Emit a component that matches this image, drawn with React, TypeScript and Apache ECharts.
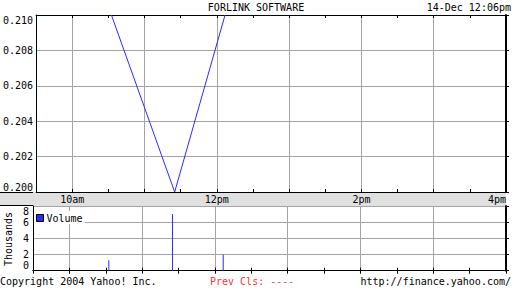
import React, { useEffect, useRef } from "react";
import * as echarts from "echarts";

const title = "FORLINK SOFTWARE";
const stamp = "14-Dec 12:06pm";
const tradeTimes = ["10:32:30", "11:25:00", "12:06:50"];
const prices = [0.21, 0.2, 0.21];
const volumesK = [1.3, 7.0, 2.0];
const xTickLabels: Record<number, string> = { 10: "10am", 12: "12pm", 14: "2pm", 16: "4pm" };

const toHours = (s: string) => {
  const [h, m, sec] = s.split(":").map(Number);
  return h + m / 60 + (sec || 0) / 3600;
};

const FONT = "DejaVu Sans Mono";
const GRID_GRAY = "#a4a4a4";
const BLUE = "#2b2bff";

export default function App() {
  const ref = useRef<HTMLDivElement>(null);
  useEffect(() => {
    if (!ref.current) return;
    const chart = echarts.init(ref.current, null, { renderer: "svg" });
    const hrs = tradeTimes.map(toHours);
    const priceData = hrs.map((h, i) => [h, prices[i]]);
    const volData = hrs.map((h, i) => [h, volumesK[i]]);
    const L = 33, W = 473;
    const xBase = {
      type: "value",
      min: 9.5,
      max: 16,
      interval: 0.5,
    };
    const txt = { fontFamily: FONT, fontSize: 10, color: "#000" };
    chart.setOption({
      animation: false,
      backgroundColor: "#fff",
      textStyle: { fontFamily: FONT },
      grid: [
        { left: L, top: 15, width: W, height: 177 },
        { left: L, top: 206, width: W, height: 64.7 },
      ],
      legend: {
        data: ["Volume"],
        left: 34,
        top: 211,
        padding: [2, 2, 1, 2],
        icon: "rect",
        itemWidth: 7,
        itemHeight: 7,
        backgroundColor: "#fff",
        itemStyle: { borderColor: "#000", borderWidth: 1 },
        textStyle: { ...txt, padding: [0, 0, 0, -2] },
      },
      xAxis: [
        {
          ...xBase,
          gridIndex: 0,
          position: "bottom",
          axisLine: { show: true, lineStyle: { color: "#000", width: 1 } },
          axisTick: { show: true, inside: true, length: 3, lineStyle: { color: "#000" } },
          axisLabel: {
            ...txt,
            margin: 2,
            alignMaxLabel: "right",
            formatter: (v: number) => xTickLabels[v] ?? "",
          },
          splitLine: { show: true, lineStyle: { color: ["rgba(0,0,0,0)", GRID_GRAY], width: 1 } },
        },
        {
          ...xBase,
          gridIndex: 0,
          position: "top",
          axisLine: { show: true, lineStyle: { color: "#000", width: 1 } },
          axisTick: { show: true, inside: true, length: 3, lineStyle: { color: "#000" } },
          axisLabel: { show: false },
          splitLine: { show: false },
        },
        {
          ...xBase,
          gridIndex: 1,
          position: "bottom",
          axisLine: { show: true, lineStyle: { color: "#000", width: 1 } },
          axisTick: { show: true, inside: true, length: 3, lineStyle: { color: "#000" } },
          axisLabel: { show: false },
          splitLine: { show: true, lineStyle: { color: ["rgba(0,0,0,0)", GRID_GRAY], width: 1 } },
        },
        {
          ...xBase,
          gridIndex: 1,
          position: "top",
          axisLine: { show: true, lineStyle: { color: "#000", width: 1 } },
          axisTick: { show: true, inside: true, length: 3, lineStyle: { color: "#000" } },
          axisLabel: { show: false },
          splitLine: { show: false },
        },
      ],
      yAxis: [
        {
          type: "value",
          gridIndex: 0,
          position: "left",
          min: 0.2,
          max: 0.21,
          interval: 0.002,
          axisLine: { show: true, lineStyle: { color: "#000" } },
          axisTick: { show: false },
          axisLabel: {
            ...txt,
            margin: 3,
            formatter: (v: number) => v.toFixed(3),
            verticalAlignMinLabel: "bottom",
            verticalAlignMaxLabel: "top",
          },
          splitLine: { show: true, lineStyle: { color: GRID_GRAY } },
        },
        {
          type: "value",
          gridIndex: 0,
          position: "right",
          min: 0.2,
          max: 0.21,
          interval: 0.002,
          axisLine: { show: true, lineStyle: { color: "#000", width: 2 } },
          axisTick: { show: true, length: 3, lineStyle: { color: "#000" } },
          axisLabel: { show: false },
          splitLine: { show: false },
        },
        {
          type: "value",
          gridIndex: 1,
          position: "left",
          min: 0,
          max: 8,
          interval: 2,
          axisLine: { show: true, lineStyle: { color: "#000" } },
          axisTick: { show: false },
          axisLabel: {
            ...txt,
            margin: 4,
            verticalAlignMinLabel: "bottom",
            verticalAlignMaxLabel: "top",
          },
          splitLine: { show: true, lineStyle: { color: GRID_GRAY } },
        },
        {
          type: "value",
          gridIndex: 1,
          position: "right",
          min: 0,
          max: 8,
          interval: 2,
          axisLine: { show: true, lineStyle: { color: "#000", width: 2 } },
          axisTick: { show: true, length: 3, lineStyle: { color: "#000" } },
          axisLabel: { show: false },
          splitLine: { show: false },
        },
      ],
      series: [
        {
          name: "Price",
          type: "line",
          xAxisIndex: 0,
          yAxisIndex: 0,
          data: priceData,
          showSymbol: false,
          symbol: "none",
          lineStyle: { color: BLUE, width: 1 },
          itemStyle: { color: BLUE },
          z: 5,
        },
        {
          name: "Volume",
          type: "bar",
          xAxisIndex: 2,
          yAxisIndex: 2,
          data: volData,
          barWidth: 1,
          itemStyle: { color: BLUE },
          z: 5,
        },
      ],
      graphic: [
        {
          type: "rect",
          z: -10,
          shape: { x: 0, y: 192, width: L + W, height: 14 },
          style: { fill: "#e0e0e0" },
        },
        {
          type: "line",
          z: -9,
          shape: { x1: 0, y1: 192.5, x2: L, y2: 192.5 },
          style: { stroke: "#000", lineWidth: 1 },
        },
        {
          type: "line",
          z: -9,
          shape: { x1: 0, y1: 205.5, x2: L, y2: 205.5 },
          style: { stroke: "#000", lineWidth: 1 },
        },
        {
          type: "text",
          x: 256,
          y: 7,
          style: { text: title, fill: "#000", font: `10px "${FONT}"`, textAlign: "center", textVerticalAlign: "middle" },
        },
        {
          type: "text",
          x: 511,
          y: 7,
          style: { text: stamp, fill: "#000", font: `10px "${FONT}"`, textAlign: "right", textVerticalAlign: "middle" },
        },
        {
          type: "text",
          x: 8,
          y: 239,
          rotation: Math.PI / 2,
          style: { text: "Thousands", fill: "#000", font: `10px "${FONT}"`, textAlign: "center", textVerticalAlign: "middle" },
        },
        {
          type: "text",
          x: 0,
          y: 281,
          style: { text: "Copyright 2004 Yahoo! Inc.", fill: "#000", font: `10px "${FONT}"`, textAlign: "left", textVerticalAlign: "middle" },
        },
        {
          type: "text",
          x: 210,
          y: 281,
          style: { text: "Prev Cls: ----", fill: "#ff3333", font: `10px "${FONT}"`, textAlign: "left", textVerticalAlign: "middle" },
        },
        {
          type: "text",
          x: 511,
          y: 281,
          style: { text: "http://finance.yahoo.com/", fill: "#000", font: `10px "${FONT}"`, textAlign: "right", textVerticalAlign: "middle" },
        },
      ],
    });
    return () => chart.dispose();
  }, []);
  return (
    <div
      ref={ref}
      style={{ width: 512, height: 288, position: "absolute", left: 0, top: 0 }}
    />
  );
}
